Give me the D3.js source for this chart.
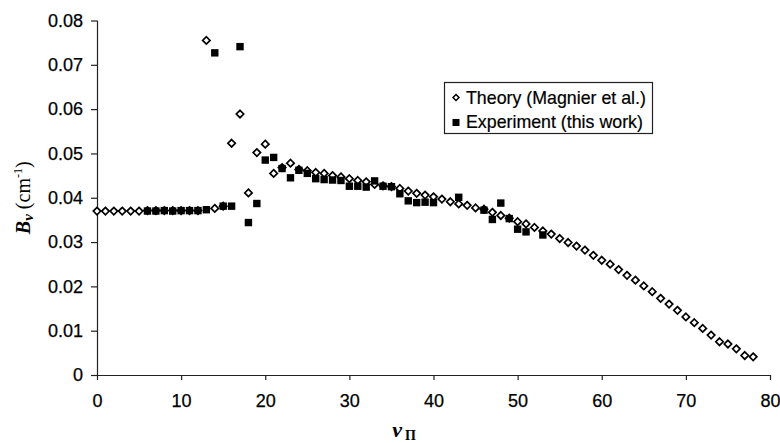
<!DOCTYPE html>
<html>
<head>
<meta charset="utf-8">
<script src="https://cdn.jsdelivr.net/npm/d3@7"></script>
<style>
  html, body { margin: 0; padding: 0; background: #fff; }
  svg { display: block; }
  .tick text { font-family: "Liberation Sans", Arial, sans-serif; font-size: 18px; fill: #000; stroke: #000; stroke-width: 0.25px; }
</style>
</head>
<body>
<div id="chart"></div>
<script>
// ---- data ----
const theoryV = [0,1,2,3,4,5,6,7,8,9,10,11,12,13,14,15,16,17,18,19,20,21,22,23,24,25,26,27,28,29,30,31,32,33,34,35,36,37,38,39,40,41,42,43,44,45,46,47,48,49,50,51,52,53,54,55,56,57,58,59,60,61,62,63,64,65,66,67,68,69,70,71,72,73,74,75,76,77,78];
const theoryB = [0.0370,0.0370,0.0370,0.0370,0.0370,0.0370,
  0.0371,0.0371,0.0371,0.0371,0.0371,0.0371,0.0371,
  0.0755,0.0376,0.0381,0.0523,0.0589,0.0411,0.0502,0.0521,0.0455,0.0468,0.0478,0.0464,0.0461,0.0457,0.0455,0.0450,0.0447,
  0.0443,0.0439,0.0436,0.0430,0.0427,0.0425,0.0421,0.0415,0.0410,0.0406,0.0402,0.0397,0.0391,0.0386,0.0383,0.0377,0.0374,
  0.0367,0.0360,0.0354,0.0346,0.0341,0.0333,0.0325,0.0318,0.0308,0.0299,0.0291,0.0282,0.0270,0.0259,0.0250,0.0238,0.0225,
  0.0214,0.0201,0.0188,0.0173,0.0160,0.0146,0.0131,0.0118,0.0105,0.0090,0.0075,0.0070,0.0059,0.0044,0.0041];

const exptV = [6,7,8,9,10,11,12,13,14,15,16,17,18,19,20,21,22,23,24,25,26,27,28,29,30,31,32,33,34,35,36,37,38,39,40,43,46,47,48,49,50,51,53];
const exptB = [0.0370,0.0370,0.0371,0.0370,0.0371,0.0371,0.0371,0.0373,
  0.0727,0.0381,0.0381,0.0741,0.0344,0.0387,0.0485,0.0491,0.0466,0.0445,0.0462,0.0455,0.0443,0.0441,0.0440,0.0439,
  0.0426,0.0426,0.0424,0.0438,0.0426,0.0425,0.0409,0.0393,0.0389,0.0390,0.0389,
  0.0401,0.0372,0.0351,0.0388,0.0353,0.0329,0.0323,0.0316];

const xTicks = [0,10,20,30,40,50,60,70,80];
const xTickLabels = ["0","10","20","30","40","50","60","70","80"];
const yTicks = [0,0.01,0.02,0.03,0.04,0.05,0.06,0.07,0.08];
const yTickLabels = ["0","0.01","0.02","0.03","0.04","0.05","0.06","0.07","0.08"];
const legendLabels = ["Theory (Magnier et al.)", "Experiment (this work)"];

// ---- layout ----
const W = 780, H = 443;
const plot = { left: 97, right: 770, top: 20.5, bottom: 375 };

const svg = d3.select("#chart").append("svg").attr("width", W).attr("height", H);

const x = d3.scaleLinear().domain([0, 80]).range([plot.left, plot.right]);
const y = d3.scaleLinear().domain([0, 0.08]).range([plot.bottom, plot.top]);

// axes
const yAxis = d3.axisLeft(y).tickValues(yTicks).tickSize(6).tickPadding(8)
  .tickFormat((d, i) => yTickLabels[i]);
const xAxis = d3.axisBottom(x).tickValues(xTicks).tickSize(5).tickPadding(14)
  .tickFormat((d, i) => xTickLabels[i]);

const gy = svg.append("g").attr("transform", `translate(${plot.left},0)`).call(yAxis);
const gx = svg.append("g").attr("transform", `translate(0,${plot.bottom})`).call(xAxis);
[gx, gy].forEach(g => {
  g.select(".domain").attr("stroke", "#222").attr("stroke-width", 1.2);
  g.selectAll(".tick line").attr("stroke", "#222").attr("stroke-width", 1.2);
});
gy.selectAll(".domain").attr("d", `M0.5,${plot.top}V${plot.bottom}`);
gx.selectAll(".domain").attr("d", `M${plot.left},0.5H${plot.right}`);

// marker drawing
const dsize = 3.7;
const diamond = `M0,${-dsize}L${dsize},0L0,${dsize}L${-dsize},0Z`;
const ssize = 3.7;

const theory = theoryV.map((v, i) => ({ v, b: theoryB[i] }));
const expt = exptV.map((v, i) => ({ v, b: exptB[i] }));

svg.append("g").selectAll("path").data(theory).join("path")
  .attr("d", diamond)
  .attr("transform", d => `translate(${x(d.v)},${y(d.b)})`)
  .attr("fill", "#fff").attr("stroke", "#000").attr("stroke-width", 1.7);

svg.append("g").selectAll("rect").data(expt).join("rect")
  .attr("x", d => x(d.v) - ssize).attr("y", d => y(d.b) - ssize)
  .attr("width", ssize * 2).attr("height", ssize * 2)
  .attr("fill", "#000");

// legend
const lg = svg.append("g");
lg.append("rect").attr("x", 444.5).attr("y", 82.5).attr("width", 208).attr("height", 51)
  .attr("fill", "#fff").attr("stroke", "#222").attr("stroke-width", 1.2);
lg.append("path").attr("d", `M0,-3L3,0L0,3L-3,0Z`).attr("transform", "translate(456,97.5)")
  .attr("fill", "#fff").attr("stroke", "#000").attr("stroke-width", 1.5);
lg.append("rect").attr("x", 452.5).attr("y", 119).attr("width", 7).attr("height", 7).attr("fill", "#000");
lg.selectAll("text").data(legendLabels).join("text")
  .attr("x", 466).attr("y", (d, i) => 104 + i * 24)
  .attr("font-family", "Liberation Sans, Arial, sans-serif").attr("font-size", 17.8)
  .attr("fill", "#000").attr("stroke", "#000").attr("stroke-width", 0.2).text(d => d);

// y axis title: B_v (cm^-1)
const yt = svg.append("text")
  .attr("transform", `translate(30,${(plot.top + plot.bottom) / 2}) rotate(-90)`)
  .attr("text-anchor", "middle")
  .attr("font-family", "Liberation Serif, Times New Roman, serif")
  .attr("font-size", 20).attr("fill", "#000");
yt.append("tspan").attr("font-weight", "bold").attr("font-style", "italic").text("B");
yt.append("tspan").attr("font-style", "italic").attr("font-weight", "bold").attr("font-size", 15).attr("dy", 3).text("v");
yt.append("tspan").attr("dy", -3).text(" (cm");
yt.append("tspan").attr("font-size", 12).attr("dy", -8).text("-1");
yt.append("tspan").attr("dy", 8).text(")");

// x axis title: v_Π
const xt = svg.append("text")
  .attr("x", 404).attr("y", 437)
  .attr("text-anchor", "middle")
  .attr("font-family", "Liberation Serif, Times New Roman, serif")
  .attr("font-size", 22).attr("fill", "#000");
xt.append("tspan").attr("font-weight", "bold").attr("font-style", "italic").text("v");
xt.append("tspan").attr("font-weight", "bold").attr("font-size", 14).attr("dx", 3).attr("dy", 3).text("Π");
</script>
</body>
</html>
